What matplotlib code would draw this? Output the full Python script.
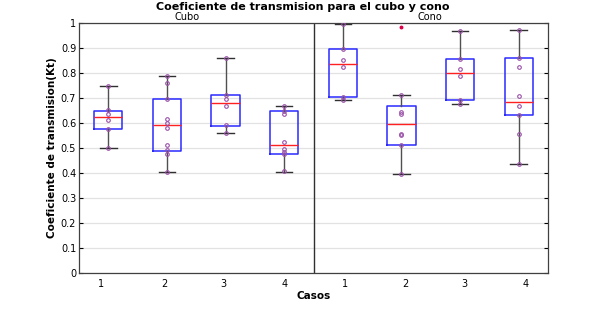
import matplotlib
matplotlib.use("Agg")
import matplotlib.pyplot as plt
import numpy as np

# ---- data ----
case_labels = ["1", "2", "3", "4", "1", "2", "3", "4"]
group_names = ["Cubo", "Cono"]

pts_cubo1 = [0.750, 0.653, 0.635, 0.611, 0.577, 0.500]
pts_cubo2 = [0.788, 0.759, 0.697, 0.617, 0.600, 0.581, 0.513, 0.491, 0.475, 0.403]
pts_cubo3 = [0.859, 0.714, 0.695, 0.667, 0.591, 0.560]
pts_cubo4 = [0.668, 0.650, 0.637, 0.524, 0.497, 0.485, 0.476, 0.407]
pts_cono1 = [0.996, 0.897, 0.852, 0.823, 0.705, 0.693]
pts_cono2 = [0.712, 0.643, 0.638, 0.557, 0.553, 0.511, 0.397]
pts_cono3 = [0.968, 0.855, 0.816, 0.789, 0.693, 0.678]
pts_cono4 = [0.973, 0.862, 0.824, 0.707, 0.667, 0.632, 0.555, 0.437]

box_q1 = [0.576, 0.489, 0.589, 0.475, 0.705, 0.511, 0.692, 0.631]
box_med = [0.623, 0.591, 0.680, 0.511, 0.836, 0.597, 0.801, 0.686]
box_q3 = [0.649, 0.696, 0.712, 0.648, 0.895, 0.667, 0.855, 0.860]
whis_lo = [0.500, 0.403, 0.560, 0.405, 0.693, 0.397, 0.676, 0.437]
whis_hi = [0.749, 0.788, 0.859, 0.668, 0.996, 0.712, 0.968, 0.973]
outliers = [[], [], [], [], [], [0.983], [], []]

all_pts = [pts_cubo1, pts_cubo2, pts_cubo3, pts_cubo4,
           pts_cono1, pts_cono2, pts_cono3, pts_cono4]

# ---- figure ----
fig = plt.figure(figsize=(6.05, 3.14), dpi=100)
ax = fig.add_axes([79/605, 41/314, 469/605, 250/314])

positions = np.arange(1, 9)
stats = []
for i in range(8):
    stats.append(dict(med=box_med[i], q1=box_q1[i], q3=box_q3[i],
                      whislo=whis_lo[i], whishi=whis_hi[i],
                      fliers=outliers[i]))

ax.bxp(stats, positions=positions, widths=0.48, showfliers=True,
       boxprops=dict(color="#2a2aff", linewidth=1.1),
       medianprops=dict(color="#ff2020", linewidth=1.0),
       whiskerprops=dict(color="#505050", linewidth=1.0, linestyle="-"),
       capprops=dict(color="#303030", linewidth=1.0),
       flierprops=dict(marker="o", markersize=1.8, markerfacecolor="#e0004a",
                       markeredgecolor="#e0004a"),
       capwidths=0.28)

for i, pts in enumerate(all_pts):
    ax.plot(np.full(len(pts), positions[i]), pts, linestyle="none", marker="o",
            markersize=2.6, markerfacecolor="none", markeredgecolor="#9a50a8",
            markeredgewidth=0.8, zorder=4)

ax.axvline(4.5, color="#303030", linewidth=1.0)

ax.set_xlim(0.5, 8.5)
ax.set_ylim(0, 1)
ax.set_yticks(np.arange(0, 1.01, 0.1))
ax.set_yticklabels(["0", "0.1", "0.2", "0.3", "0.4", "0.5", "0.6", "0.7", "0.8", "0.9", "1"])
label_pos = [0.875, 1.95, 2.97, 4.0, 5.04, 6.06, 7.08, 8.11]
ax.set_xticks(label_pos)
ax.set_xticklabels(case_labels)
ax.tick_params(axis="x", length=0, labelsize=7, pad=4)
ax.tick_params(axis="y", direction="in", length=3, labelsize=7, right=True, pad=2)
ax.yaxis.grid(True, color="#e2e2e2", linewidth=0.9)
ax.set_axisbelow(True)
for s in ax.spines.values():
    s.set_color("#404040")
    s.set_linewidth(0.9)

ax.set_ylabel("Coeficiente de transmision(Kt)", fontsize=7.5, fontweight="bold", labelpad=3)
ax.set_xlabel("Casos", fontsize=7.5, fontweight="bold", labelpad=2)
fig.text(0.5, 0.978, "Coeficiente de transmision para el cubo y cono",
         ha="center", va="center", fontsize=8, fontweight="bold")
fig.text(187/605, 1 - 17/314, group_names[0], ha="center", va="center", fontsize=7)
fig.text(430/605, 1 - 17/314, group_names[1], ha="center", va="center", fontsize=7)

fig.savefig("out.png", dpi=100)
